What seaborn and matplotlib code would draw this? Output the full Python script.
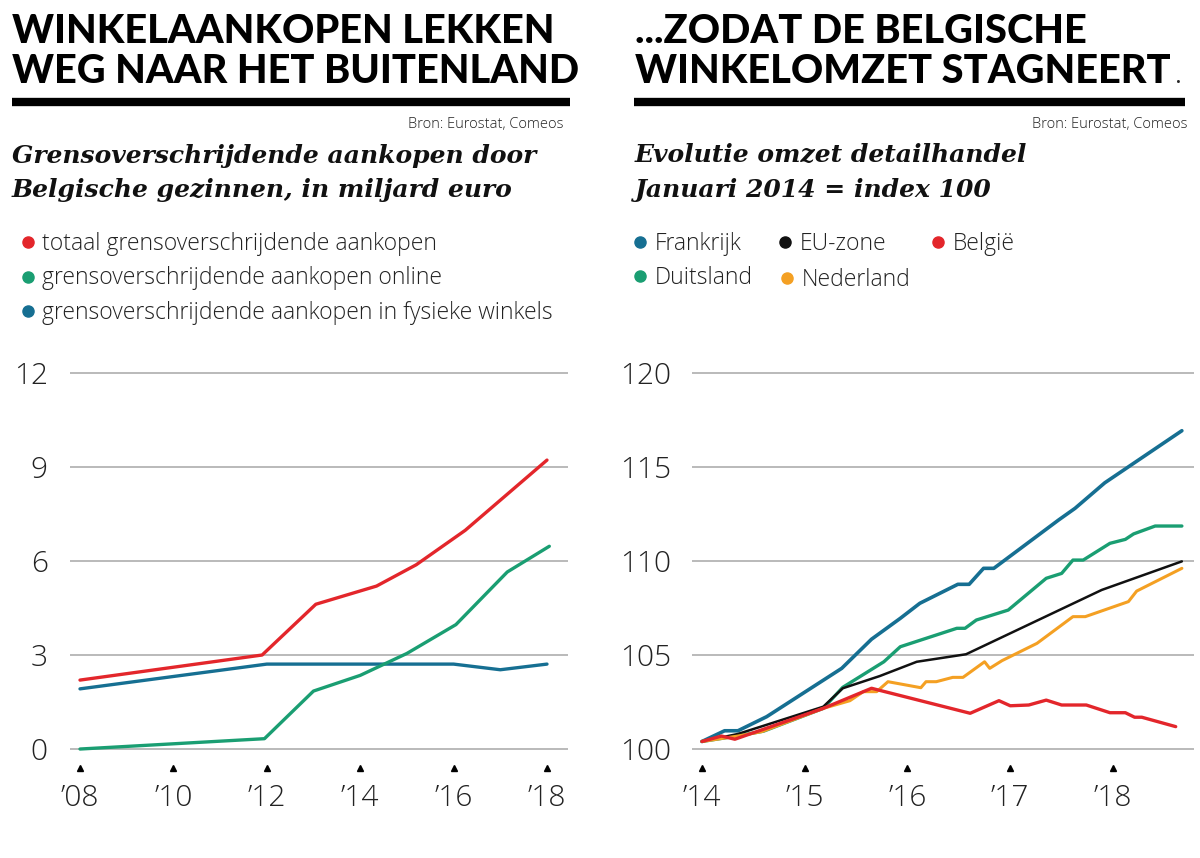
import matplotlib
matplotlib.use("Agg")
import matplotlib.pyplot as plt
from matplotlib.lines import Line2D
import seaborn as sns

# ---- left chart: cross-border purchases (bn euro) ----
total_x = [2008, 2011.9, 2013.05, 2014.35, 2015.2, 2016.25, 2018.0]
total_y = [2.2, 3.0, 4.62, 5.2, 5.88, 6.98, 9.22]
online_x = [2008, 2011.95, 2013.0, 2014.0, 2015.0, 2016.05, 2017.15, 2018.05]
online_y = [0.0, 0.33, 1.85, 2.35, 3.05, 3.97, 5.65, 6.47]
store_x = [2008, 2012.0, 2016.0, 2017.0, 2018.0]
store_y = [1.92, 2.71, 2.71, 2.53, 2.71]
left_years = [2008, 2010, 2012, 2014, 2016, 2018]
left_xlabels = ["\u201908", "\u201910", "\u201912", "\u201914", "\u201916", "\u201918"]
left_yticks = [0, 3, 6, 9, 12]

# ---- right chart: retail turnover index (Jan 2014 = 100) ----
fr_x = [2014.0, 2014.22, 2014.35, 2014.63, 2015.36, 2015.65, 2015.93, 2016.12, 2016.49,
        2016.60, 2016.74, 2016.84, 2017.47, 2017.63, 2017.92, 2018.67]
fr_y = [100.4, 100.97, 100.97, 101.72, 104.29, 105.84, 106.95, 107.75, 108.76,
        108.76, 109.61, 109.61, 112.18, 112.8, 114.16, 116.93]
de_x = [2014.0, 2014.35, 2014.6, 2015.18, 2015.37, 2015.77, 2015.93, 2016.48, 2016.56, 2016.67,
        2016.98, 2017.35, 2017.5, 2017.61, 2017.71, 2017.97, 2018.12, 2018.20, 2018.41, 2018.67]
de_y = [100.4, 100.7, 100.95, 102.16, 103.28, 104.64, 105.44, 106.42, 106.42, 106.86,
        107.39, 109.08, 109.34, 110.05, 110.05, 110.94, 111.15, 111.44, 111.86, 111.86]
eu_x = [2014.0, 2014.35, 2015.18, 2015.37, 2015.73, 2016.09, 2016.57, 2017.89, 2018.67]
eu_y = [100.4, 100.8, 102.25, 103.23, 103.88, 104.64, 105.04, 108.46, 109.98]
nl_x = [2014.0, 2014.35, 2014.58, 2015.18, 2015.44, 2015.57, 2015.70, 2015.81, 2016.13, 2016.18,
        2016.28, 2016.44, 2016.54, 2016.75, 2016.80, 2016.92, 2017.26, 2017.61, 2017.73, 2018.15,
        2018.23, 2018.67]
nl_y = [100.4, 100.69, 100.92, 102.16, 102.57, 103.05, 103.05, 103.58, 103.26, 103.58,
        103.58, 103.81, 103.81, 104.64, 104.29, 104.7, 105.62, 107.04, 107.04, 107.84,
        108.4, 109.61]
be_x = [2014.0, 2014.19, 2014.32, 2015.18, 2015.65, 2016.61, 2016.89, 2017.0, 2017.18, 2017.35,
        2017.5, 2017.74, 2017.97, 2018.12, 2018.21, 2018.28, 2018.61]
be_y = [100.4, 100.69, 100.52, 102.16, 103.23, 101.90, 102.57, 102.3, 102.34, 102.6,
        102.34, 102.34, 101.93, 101.93, 101.69, 101.69, 101.19]
right_years = [2014, 2015, 2016, 2017, 2018]
right_xlabels = ["\u201914", "\u201915", "\u201916", "\u201917", "\u201918"]
right_yticks = [100, 105, 110, 115, 120]

RED = "#e3262b"
GREEN = "#1a9e72"
BLUE = "#166f92"
ORANGE = "#f4a023"
BLACK = "#111111"
GRID = "#b4b4b4"

sns.set_theme(style="white")
plt.rcParams["font.family"] = ["Open Sans", "DejaVu Sans"]

W, H = 1200, 858
fig = plt.figure(figsize=(W / 100, H / 100), dpi=100)


def fx(x):
    return x / W


def fy(y):
    return 1 - y / H


def text(x, y, s, **kw):
    fig.text(fx(x), fy(y), s, **kw)


def dot(x, y, color):
    fig.add_artist(Line2D([fx(x)], [fy(y)], marker="o", markersize=8, color=color,
                          linestyle="none", transform=fig.transFigure))


def rule(x0, x1, y):
    fig.add_artist(Line2D([fx(x0), fx(x1)], [fy(y), fy(y)], lw=6, color="black",
                          solid_capstyle="butt", transform=fig.transFigure))


head = dict(fontsize=28.6, fontweight="black", family=["Lato", "DejaVu Sans"], va="baseline", color="black")
sub = dict(fontsize=18, fontweight="bold", style="italic", family=["DejaVu Serif"],
           va="baseline", color="#111111")
src = dict(fontsize=10.5, fontweight="light", va="baseline", ha="right", color="#222222")
leg = dict(fontsize=16.5, fontweight="light", va="baseline", color="#222222")

# headers left
text(12, 43, "WINKELAANKOPEN LEKKEN", **head)
text(12, 83, "WEG NAAR HET BUITENLAND", **head)
rule(12, 570, 102)
text(564, 128, "Bron: Eurostat, Comeos", **src)
text(12, 163, "Grensoverschrijdende aankopen door", **sub)
text(12, 197, "Belgische gezinnen, in miljard euro", **sub)
for yy, col, lab in [(250, RED, "totaal grensoverschrijdende aankopen"),
                     (284.5, GREEN, "grensoverschrijdende aankopen online"),
                     (319, BLUE, "grensoverschrijdende aankopen in fysieke winkels")]:
    dot(28, yy - 8, col)
    text(42, yy, lab, **leg)

# headers right
text(635, 43, "...ZODAT DE BELGISCHE", **head)
text(635, 83, "WINKELOMZET STAGNEERT", **head)
text(1176, 83, ".", fontsize=12, fontweight="bold", va="baseline")
rule(634, 1185, 102)
text(1188, 128, "Bron: Eurostat, Comeos", **src)
text(635, 162, "Evolutie omzet detailhandel", **sub)
text(635, 197, "Januari 2014 = index 100", **sub)
for x0, yy, col, lab in [(640, 250, BLUE, "Frankrijk"), (785, 250, BLACK, "EU-zone"),
                         (938, 250, RED, "Belgi\u00eb"), (640, 284, GREEN, "Duitsland"),
                         (787, 286, ORANGE, "Nederland")]:
    dot(x0, yy - 8, col)
    text(x0 + 15, yy, lab, **leg)


def style_axis(ax, years, xlabels, yticks, ypad):
    for s in ax.spines.values():
        s.set_visible(False)
    ax.set_yticks(yticks)
    ax.set_yticklabels([str(v) for v in yticks])
    ax.set_xticks(years)
    ax.set_xticklabels(xlabels)
    ax.yaxis.grid(True, color=GRID, lw=1.3)
    ax.xaxis.grid(False)
    ax.tick_params(axis="y", length=0, pad=ypad, labelsize=21.5, labelcolor="#222222")
    ax.tick_params(axis="x", length=0, pad=20, labelsize=21.5, labelcolor="#222222")
    for t in ax.get_xticklabels() + ax.get_yticklabels():
        t.set_fontweight("light")
    ax.plot(years, [-0.033] * len(years), linestyle="none", marker="^", markersize=4,
            color="black", transform=ax.get_xaxis_transform(), clip_on=False)
    ax.set_xlabel("")
    ax.set_ylabel("")


bottom = (H - 755.3) / H
height = 388.6 / H

# left chart
ax1 = fig.add_axes([fx(70), bottom, 498 / W, height])
sns.lineplot(x=store_x, y=store_y, color=BLUE, lw=2.4, ax=ax1)
sns.lineplot(x=online_x, y=online_y, color=GREEN, lw=2.4, ax=ax1)
sns.lineplot(x=total_x, y=total_y, color=RED, lw=2.4, ax=ax1)
ax1.set_xlim(2007.786, 2018.45)
ax1.set_ylim(-0.2, 12.2)
style_axis(ax1, left_years, left_xlabels, left_yticks, 16)

# right chart
ax2 = fig.add_axes([fx(692), bottom, 502 / W, height])
sns.lineplot(x=fr_x, y=fr_y, color=BLUE, lw=2.6, ax=ax2)
sns.lineplot(x=de_x, y=de_y, color=GREEN, lw=2.4, ax=ax2)
sns.lineplot(x=eu_x, y=eu_y, color=BLACK, lw=1.8, ax=ax2)
sns.lineplot(x=nl_x, y=nl_y, color=ORANGE, lw=2.2, ax=ax2)
sns.lineplot(x=be_x, y=be_y, color=RED, lw=2.4, ax=ax2)
ax2.set_xlim(2013.903, 2018.788)
ax2.set_ylim(99.665, 120.335)
style_axis(ax2, right_years, right_xlabels, right_yticks, 15)

fig.savefig("out.png", dpi=100)
